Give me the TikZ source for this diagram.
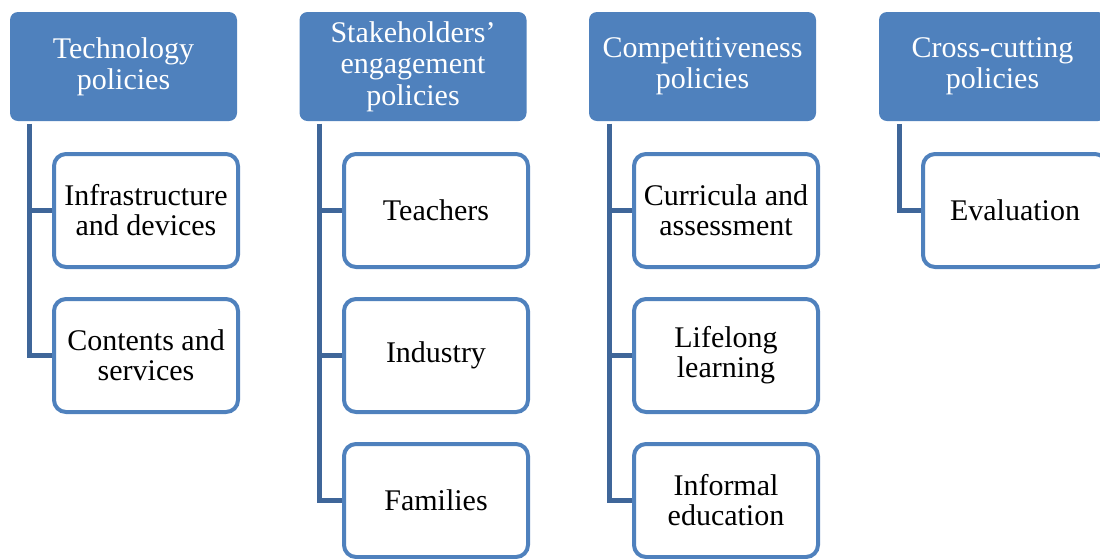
\documentclass[tikz,border=0pt]{standalone}
\usepackage{fontspec}
\setmainfont{Liberation Serif}
\usetikzlibrary{backgrounds}
\definecolor{hdrblue}{HTML}{4F81BD}
\definecolor{brdblue}{HTML}{4F81BD}
\definecolor{lineblue}{HTML}{3F6699}
\tikzset{
  hdr/.style={fill=hdrblue, draw=none, rounded corners=6pt, minimum width=170.25pt, minimum height=81.75pt,
    text=white, align=center, font=\fontsize{22.5}{23.5}\selectfont, inner sep=0pt},
  child/.style={fill=white, draw=brdblue, line width=3pt, rounded corners=9pt, minimum width=138pt, minimum height=84.75pt,
    text=black, align=center, font=\fontsize{22.5}{22.5}\selectfont, inner sep=0pt},
  conn/.style={draw=lineblue, line width=3.75pt, line join=miter}
}
\begin{document}
\begin{tikzpicture}[x=0.75pt, y=-0.75pt]
\useasboundingbox (0,0) rectangle (1100,558);
\clip (0,0) rectangle (1100,558);
% headers
\node[hdr] (h1) at (123.5,66.5) {Technology\\policies};
\node[hdr] (h2) at (413.0,66.5) {Stakeholders’\\engagement\\policies};
\node[hdr] (h3) at (702.5,66.5) {Competitiveness\\policies};
\node[hdr] (h4) at (992.5,66.5) {Cross-cutting\\policies};
% children
\node[child] (c11) at (146,210.5) {Infrastructure\\and devices};
\node[child] (c12) at (146,355.5) {Contents and\\services};
\node[child] (c21) at (436,210.5) {Teachers};
\node[child] (c22) at (436,355.5) {Industry};
\node[child] (c23) at (436,500.5) {Families};
\node[child] (c31) at (726,210.5) {Curricula and\\assessment};
\node[child] (c32) at (726,355.5) {Lifelong\\learning};
\node[child] (c33) at (726,500.5) {Informal\\education};
\node[child] (c41) at (1015,210.5) {Evaluation};
% connectors
\coordinate (s1) at ([xshift=15pt,yshift=-2pt]h1.south west);
\coordinate (s2) at ([xshift=15.5pt,yshift=-2pt]h2.south west);
\coordinate (s3) at ([xshift=15.5pt,yshift=-2pt]h3.south west);
\coordinate (s4) at ([xshift=15.5pt,yshift=-2pt]h4.south west);
\begin{scope}[on background layer]
\draw[conn] (s1) |- (c11.west);
\draw[conn] (s1) |- (c12.west);
\draw[conn] (s2) |- (c21.west);
\draw[conn] (s2) |- (c22.west);
\draw[conn] (s2) |- (c23.west);
\draw[conn] (s3) |- (c31.west);
\draw[conn] (s3) |- (c32.west);
\draw[conn] (s3) |- (c33.west);
\draw[conn] (s4) |- (c41.west);
\end{scope}
\end{tikzpicture}
\end{document}
